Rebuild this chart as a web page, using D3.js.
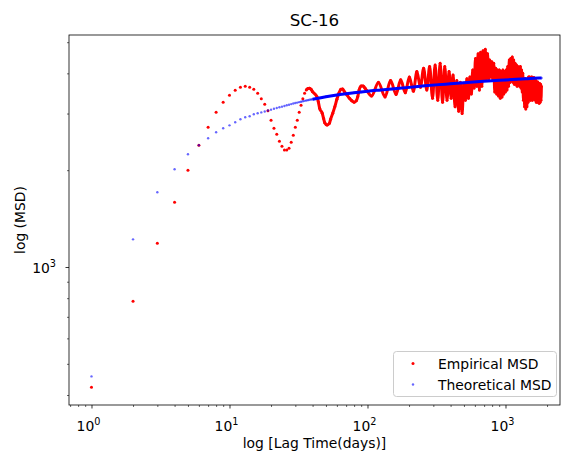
<!DOCTYPE html>
<html>
<head>
<meta charset="utf-8">
<script src="https://cdn.jsdelivr.net/npm/d3@7"></script>
<style>
body { margin: 0; background: #fff; }
text { font-family: "DejaVu Sans", sans-serif; fill: #000; }
</style>
</head>
<body>
<div id="chart"></div>
<script>
// ---- data ----
var chartTitle = "SC-16";
var xLabel = "log [Lag Time(days)]";
var yLabel = "log (MSD)";
var seriesNames = ["Empirical MSD", "Theoretical MSD"];
var seriesColors = ["#ff0000", "#0000ff"];

var xMajor = [1, 10, 100, 1000];
var xMajorExp = ["0", "1", "2", "3"];
var yMajor = [1000];
var yMajorExp = ["3"];

// empirical MSD: every lag up to 40, then readings, then the crests / troughs of the 27 day wobble
var empLag = [1, 2, 3, 4, 5, 6, 7, 8, 9, 10, 11, 12, 13, 14, 15, 16, 17, 18, 19, 20,
    21, 22, 23, 24, 25, 26, 27, 28, 29, 30, 31, 32, 33, 34, 35, 36, 37, 38, 39, 40,
    43, 44, 45, 47, 48, 49, 51, 53, 54, 56, 58, 60, 62, 64, 66, 68, 71, 74, 77, 80,
    83, 85, 87, 90, 93, 96, 99,
    107, 120, 134, 147, 161, 174, 188, 201, 215, 228, 242, 255,
    269, 282, 296, 309, 323, 336, 350, 363, 377, 390, 404, 417,
    431, 444, 458, 471, 485, 498, 512, 525, 539, 552, 566, 579,
    593, 606, 620, 633, 647, 660, 674, 687, 701, 714, 728, 741,
    755, 768, 782, 795, 809, 822, 836, 849, 863, 876, 890, 903,
    917, 930, 944, 957, 971, 984, 998, 1011, 1025, 1038,
    1052, 1065, 1079, 1092, 1106, 1119, 1133, 1146, 1160, 1173, 1187, 1200,
    1214, 1227, 1241, 1254, 1268, 1281, 1295, 1308, 1322, 1335,
    1349, 1362, 1376, 1389, 1403, 1416, 1430, 1443, 1457, 1470,
    1484, 1497, 1511, 1524, 1538, 1551, 1565, 1578, 1592, 1605, 1619, 1632,
    1646, 1659, 1673, 1686, 1700, 1713, 1727, 1740, 1754, 1767, 1781, 1794, 1808, 1821];
var empVal = [423, 782, 1185, 1589, 1999, 2390, 2720, 3027, 3252, 3420, 3544, 3621, 3647, 3621, 3569, 3467, 3337, 3205, 3062, 2858,
    2700, 2586, 2460, 2373, 2311, 2311, 2340, 2442, 2568, 2720, 2858, 3027, 3183, 3337, 3467, 3552, 3586, 3596, 3569, 3508,
    3386, 3266, 3115, 3006, 2900, 2810, 2764, 2798, 2879, 3006, 3151, 3323, 3467, 3569, 3578, 3508, 3427, 3346, 3288, 3252,
    3288, 3386, 3552, 3655, 3655, 3596, 3533,
    3400, 3750, 3380, 3800, 3440, 3820, 3480, 3900, 3520, 4050, 3620, 4150,
    3550, 4200, 3350, 4250, 3300, 4300, 3250, 4200, 3300, 4050, 3350, 3950,
    3150, 3800, 3050, 3750, 3000, 3700, 3300, 3850, 3350, 3900, 3450, 4100,
    3600, 4450, 3650, 4600, 3550, 4650, 3650, 4700, 3800, 4750, 3850, 4600,
    3850, 4400, 3900, 4350, 3850, 4300, 3500, 4150, 3450, 4100, 3400, 4100,
    3350, 4050, 3380, 4100, 3450, 4050, 3500, 4100, 3550, 4200,
    3650, 4400, 3750, 4450, 3800, 4500, 3750, 4400, 3700, 4300, 3700, 4250,
    3650, 4200, 3700, 4150, 3650, 4200, 3600, 4100, 3500, 4000,
    3300, 3850, 3150, 3850, 3100, 3800, 3150, 3850, 3250, 3900,
    3350, 3900, 3300, 3880, 3320, 3900, 3300, 3850, 3350, 3880, 3350, 3850,
    3300, 3800, 3250, 3750, 3280, 3760, 3250, 3700, 3230, 3720, 3250, 3700, 3300, 3650];

// theoretical MSD
var thLag = [1, 2, 3, 4, 5, 6, 7, 8, 9, 10, 11, 12, 13, 14, 15, 16, 17, 18, 19, 20,
    21, 22, 23, 24, 25, 26, 27, 28, 29, 30, 31, 32, 33, 34, 35, 36, 37, 38, 39, 40,
    45, 50, 60, 70, 80, 90, 100, 125, 150, 200, 260, 330, 400, 500, 650, 800,
    1000, 1200, 1400, 1600, 1825];
var thVal = [457, 1219, 1707, 2013, 2241, 2390, 2513, 2624, 2700, 2757, 2818, 2879, 2921, 2942, 2984, 3006, 3025, 3045, 3065, 3085,
    3105, 3120, 3138, 3152, 3167, 3182, 3196, 3210, 3222, 3234, 3245, 3256, 3266, 3276, 3285, 3294, 3302, 3310, 3317, 3324,
    3355, 3382, 3425, 3455, 3480, 3502, 3520, 3552, 3578, 3618, 3658, 3690, 3712, 3740, 3772, 3795,
    3815, 3832, 3847, 3860, 3870];

// ---- layout ----
var W = 561, H = 460;
var box = {left: 69, right: 560, top: 35, bottom: 405};

var svg = d3.select("#chart").append("svg")
    .attr("width", W)
    .attr("height", H);

var x = d3.scaleLog()
    .domain([0.687, 2483])
    .range([box.left, box.right]);
var y = d3.scaleLog()
    .domain([372.4, 5264])
    .range([box.bottom, box.top]);

function minorTicks(scale) {
    var d = scale.domain(), out = [];
    for (var e = Math.floor(Math.log10(d[0])); e <= Math.ceil(Math.log10(d[1])); e++) {
        for (var m = 2; m <= 9; m++) {
            var v = m * Math.pow(10, e);
            if (v >= d[0] && v <= d[1]) out.push(v);
        }
    }
    return out;
}

svg.append("defs").append("clipPath").attr("id", "clip")
    .append("rect")
    .attr("x", box.left).attr("y", box.top)
    .attr("width", box.right - box.left).attr("height", box.bottom - box.top);

// ---- axes ----
var gx = svg.append("g").attr("transform", "translate(0," + box.bottom + ")");
gx.append("g").call(d3.axisBottom(x).tickValues(xMajor).tickSize(3.5).tickFormat(""))
    .call(function(g) { g.select(".domain").remove(); g.selectAll("line").attr("stroke-width", 0.8); });
gx.append("g").call(d3.axisBottom(x).tickValues(minorTicks(x)).tickSize(2).tickFormat(""))
    .call(function(g) { g.select(".domain").remove(); g.selectAll("line").attr("stroke-width", 0.6); });

var gy = svg.append("g").attr("transform", "translate(" + box.left + ",0)");
gy.append("g").call(d3.axisLeft(y).tickValues(yMajor).tickSize(3.5).tickFormat(""))
    .call(function(g) { g.select(".domain").remove(); g.selectAll("line").attr("stroke-width", 0.8); });
gy.append("g").call(d3.axisLeft(y).tickValues(minorTicks(y)).tickSize(2).tickFormat(""))
    .call(function(g) { g.select(".domain").remove(); g.selectAll("line").attr("stroke-width", 0.6); });

xMajor.forEach(function(v, i) {
    var t = svg.append("text")
        .attr("x", x(v) - 3)
        .attr("y", 431)
        .attr("text-anchor", "middle")
        .style("font-size", "13.9px");
    t.append("tspan").text("10");
    t.append("tspan").attr("dy", -6).style("font-size", "9.7px").text(xMajorExp[i]);
});

yMajor.forEach(function(v, i) {
    var t = svg.append("text")
        .attr("x", 56)
        .attr("y", y(v) + 5.5)
        .attr("text-anchor", "end")
        .style("font-size", "13.9px");
    t.append("tspan").text("10");
    t.append("tspan").attr("dy", -6).style("font-size", "9.7px").text(yMajorExp[i]);
});

// ---- marks ----
var plot = svg.append("g").attr("clip-path", "url(#clip)");

var emp = empLag.map(function(d, i) { return {lag: d, v: empVal[i]}; });
var th = thLag.map(function(d, i) { return {lag: d, v: thVal[i]}; });

var line = d3.line()
    .x(function(d) { return x(d.lag); })
    .y(function(d) { return y(d.v); })
    .curve(d3.curveMonotoneX);

// dense part of the empirical series: markers melt into a band
plot.append("path")
    .datum(emp.filter(function(d) { return d.lag >= 36; }))
    .attr("d", line)
    .attr("fill", "none")
    .attr("stroke", seriesColors[0])
    .attr("stroke-width", 3)
    .attr("stroke-linejoin", "round");

plot.selectAll(".emp")
    .data(emp)
    .enter()
    .append("circle")
    .attr("class", "emp")
    .attr("cx", function(d) { return x(d.lag); })
    .attr("cy", function(d) { return y(d.v); })
    .attr("r", 1.5)
    .attr("fill", seriesColors[0]);

plot.append("path")
    .datum(th.filter(function(d) { return d.lag >= 40; }))
    .attr("d", line)
    .attr("fill", "none")
    .attr("stroke", seriesColors[1])
    .attr("stroke-width", 3);

plot.selectAll(".th")
    .data(th)
    .enter()
    .append("circle")
    .attr("class", "th")
    .attr("cx", function(d) { return x(d.lag); })
    .attr("cy", function(d) { return y(d.v); })
    .attr("r", 1.2)
    .attr("fill", seriesColors[1])
    .attr("fill-opacity", 0.6);

// frame
svg.append("rect")
    .attr("x", box.left).attr("y", box.top)
    .attr("width", box.right - box.left).attr("height", box.bottom - box.top)
    .attr("fill", "none")
    .attr("stroke", "#000")
    .attr("stroke-width", 0.8);

// ---- texts ----
svg.append("text")
    .attr("x", (box.left + box.right) / 2)
    .attr("y", 26)
    .attr("text-anchor", "middle")
    .style("font-size", "16.7px")
    .text(chartTitle);

svg.append("text")
    .attr("x", (box.left + box.right) / 2)
    .attr("y", 448)
    .attr("text-anchor", "middle")
    .style("font-size", "13.9px")
    .text(xLabel);

svg.append("text")
    .attr("transform", "translate(25," + (box.top + box.bottom) / 2 + ")rotate(-90)")
    .attr("text-anchor", "middle")
    .style("font-size", "13.9px")
    .text(yLabel);

// ---- legend ----
var legend = svg.append("g");
legend.append("rect")
    .attr("x", 393.5).attr("y", 351.5)
    .attr("width", 163).attr("height", 45)
    .attr("rx", 3)
    .attr("fill", "#fff")
    .attr("fill-opacity", 0.8)
    .attr("stroke", "#cccccc");

seriesNames.forEach(function(name, i) {
    var cy = 363.5 + i * 21;
    legend.append("circle")
        .attr("cx", 413)
        .attr("cy", cy)
        .attr("r", i == 0 ? 1.5 : 1.2)
        .attr("fill", seriesColors[i])
        .attr("fill-opacity", i == 0 ? 1 : 0.6);
    legend.append("text")
        .attr("x", 438)
        .attr("y", cy + 5)
        .style("font-size", "13.9px")
        .text(name);
});
</script>
</body>
</html>
